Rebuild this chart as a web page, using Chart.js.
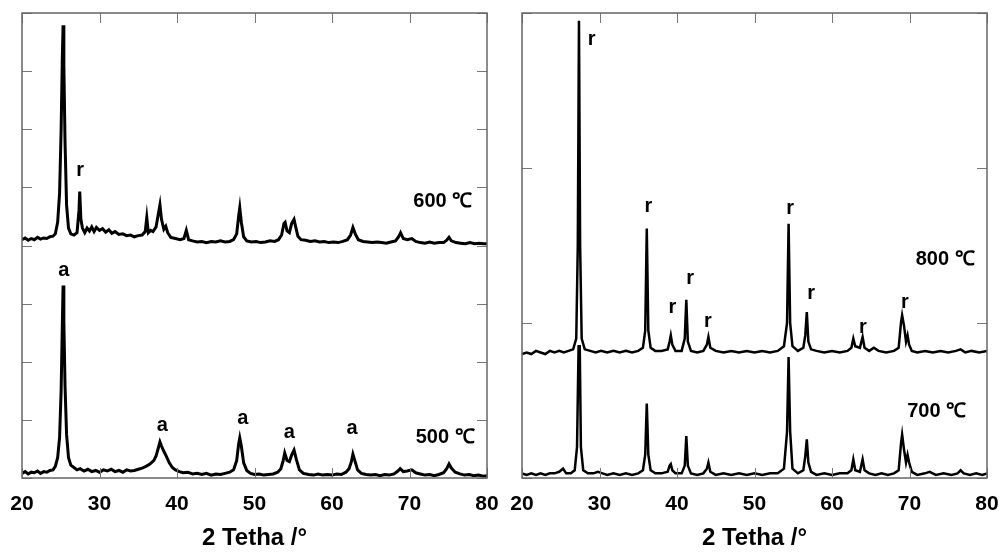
<!DOCTYPE html>
<html>
<head>
<meta charset="utf-8">
<script src="https://cdn.jsdelivr.net/npm/chart.js@4.4.1/dist/chart.umd.min.js"></script>
<style>
  body { margin: 0; background: #fff; overflow: hidden; }
  canvas { position: absolute; top: 0; }
</style>
</head>
<body>
<canvas id="leftPanel" width="517" height="553" style="left:-4px"></canvas>
<canvas id="rightPanel" width="517" height="553" style="left:496px"></canvas>
<script>
// 2θ ticks shared by both panels
const twoThetaTicks = [20, 30, 40, 50, 60, 70, 80];

// XRD traces as [2θ, intensity] (arb. units, upper trace offset)
const xrd500 = [[20,0.08],[20.4,0.11],[20.8,0.07],[21.2,0.1],[21.6,0.09],[22,0.12],[22.4,0.08],[22.8,0.11],[23.2,0.1],[23.6,0.13],[24,0.14],[24.3,0.2],[24.6,0.35],[24.85,0.7],[25.05,1.5],[25.2,2.6],[25.3,3.31],[25.4,2.7],[25.55,1.6],[25.75,0.75],[26,0.35],[26.3,0.22],[26.7,0.18],[27.1,0.14],[27.5,0.16],[28,0.12],[28.5,0.15],[29,0.11],[29.5,0.13],[30,0.1],[30.5,0.14],[31,0.12],[31.5,0.15],[32,0.11],[32.5,0.13],[33,0.1],[33.5,0.14],[34,0.12],[34.5,0.13],[35,0.15],[35.5,0.17],[36,0.2],[36.5,0.24],[37,0.3],[37.3,0.38],[37.6,0.52],[37.8,0.62],[38,0.55],[38.3,0.46],[38.6,0.38],[39,0.26],[39.4,0.18],[39.8,0.14],[40.3,0.11],[40.8,0.09],[41.4,0.1],[42,0.07],[42.6,0.08],[43.2,0.06],[43.8,0.08],[44.4,0.05],[45,0.07],[45.6,0.06],[46.2,0.08],[46.8,0.1],[47.3,0.14],[47.7,0.3],[47.95,0.58],[48.1,0.69],[48.3,0.55],[48.6,0.26],[49,0.13],[49.5,0.08],[50,0.06],[50.6,0.07],[51.2,0.05],[51.8,0.06],[52.4,0.07],[53,0.1],[53.4,0.16],[53.7,0.3],[53.9,0.43],[54.2,0.3],[54.5,0.28],[54.8,0.4],[55.1,0.48],[55.4,0.32],[55.8,0.14],[56.3,0.08],[57,0.06],[57.6,0.05],[58.2,0.07],[58.8,0.05],[59.4,0.06],[60,0.05],[60.6,0.07],[61.2,0.06],[61.8,0.1],[62.2,0.16],[62.5,0.28],[62.7,0.41],[62.95,0.3],[63.3,0.14],[63.8,0.08],[64.4,0.06],[65,0.05],[65.6,0.06],[66.2,0.04],[66.8,0.06],[67.4,0.05],[68,0.07],[68.5,0.12],[68.8,0.16],[69.2,0.11],[69.7,0.12],[70.3,0.14],[70.8,0.09],[71.4,0.07],[72,0.05],[72.6,0.06],[73.2,0.04],[73.8,0.06],[74.4,0.09],[74.8,0.16],[75.1,0.24],[75.4,0.17],[75.9,0.1],[76.5,0.07],[77.1,0.05],[77.7,0.06],[78.3,0.04],[78.9,0.05],[79.5,0.03],[80,0.04]];

const xrd600 = [[20,4.1],[20.4,4.13],[20.8,4.09],[21.2,4.12],[21.6,4.1],[22,4.14],[22.4,4.11],[22.8,4.13],[23.2,4.12],[23.6,4.15],[24,4.16],[24.3,4.2],[24.6,4.4],[24.85,4.9],[25.05,6.0],[25.2,7.2],[25.3,7.79],[25.4,7.1],[25.55,5.8],[25.75,4.7],[26,4.3],[26.3,4.2],[26.7,4.18],[27.1,4.22],[27.35,4.6],[27.45,4.93],[27.6,4.45],[27.8,4.3],[28.1,4.22],[28.4,4.3],[28.7,4.25],[29,4.32],[29.3,4.24],[29.6,4.31],[30,4.26],[30.4,4.29],[30.8,4.23],[31.2,4.27],[31.6,4.21],[32,4.24],[32.5,4.19],[33,4.2],[33.5,4.17],[34,4.18],[34.5,4.15],[35,4.17],[35.5,4.18],[35.9,4.24],[36.1,4.48],[36.3,4.22],[36.6,4.26],[36.9,4.24],[37.3,4.32],[37.6,4.55],[37.8,4.7],[38,4.45],[38.3,4.28],[38.55,4.33],[38.8,4.22],[39.2,4.14],[39.8,4.12],[40.4,4.1],[40.9,4.12],[41.2,4.26],[41.5,4.1],[42,4.08],[42.6,4.06],[43.2,4.07],[43.8,4.05],[44.4,4.07],[45,4.06],[45.6,4.08],[46.2,4.06],[46.8,4.07],[47.3,4.1],[47.7,4.2],[47.95,4.5],[48.1,4.65],[48.3,4.4],[48.6,4.15],[49,4.08],[49.6,4.06],[50.2,4.07],[50.8,4.05],[51.4,4.06],[52,4.08],[52.6,4.07],[53.1,4.1],[53.5,4.18],[53.8,4.38],[53.95,4.4],[54.2,4.25],[54.5,4.22],[54.8,4.38],[55.1,4.45],[55.35,4.3],[55.6,4.16],[56,4.1],[56.6,4.09],[57.2,4.07],[57.8,4.08],[58.4,4.06],[59,4.07],[59.6,4.05],[60.2,4.06],[60.8,4.05],[61.4,4.07],[62,4.1],[62.4,4.18],[62.7,4.31],[63,4.2],[63.4,4.1],[64,4.07],[64.6,4.06],[65.2,4.05],[65.8,4.06],[66.4,4.05],[67,4.04],[67.6,4.06],[68.2,4.08],[68.6,4.15],[68.85,4.22],[69.2,4.12],[69.7,4.1],[70.3,4.12],[70.8,4.07],[71.4,4.05],[72,4.04],[72.6,4.06],[73.2,4.04],[73.8,4.05],[74.4,4.05],[74.8,4.09],[75.1,4.14],[75.4,4.08],[76,4.05],[76.6,4.04],[77.2,4.03],[77.8,4.05],[78.4,4.03],[79,4.04],[79.6,4.03],[80,4.03]];

const xrd700 = [[20,0.03],[20.6,0.02],[21.2,0.03],[21.8,0.02],[22.4,0.03],[23,0.02],[23.6,0.03],[24.2,0.03],[24.8,0.04],[25.3,0.06],[25.7,0.03],[26.3,0.03],[26.8,0.05],[27.1,0.2],[27.3,0.85],[27.45,0.85],[27.6,0.2],[27.9,0.05],[28.5,0.03],[29.2,0.03],[29.8,0.04],[30.4,0.03],[31,0.02],[31.8,0.03],[32.6,0.02],[33.4,0.03],[34.2,0.02],[35,0.03],[35.6,0.05],[35.9,0.15],[36.1,0.48],[36.3,0.15],[36.6,0.05],[37.2,0.03],[38,0.03],[38.8,0.04],[39.05,0.08],[39.2,0.09],[39.4,0.05],[39.8,0.03],[40.6,0.03],[41,0.08],[41.2,0.27],[41.4,0.08],[41.8,0.03],[42.6,0.02],[43.4,0.03],[43.85,0.06],[44.05,0.1],[44.3,0.04],[45,0.02],[46,0.03],[47,0.02],[48,0.03],[49,0.02],[50,0.03],[51,0.02],[52,0.03],[53,0.03],[53.8,0.06],[54.2,0.3],[54.4,0.78],[54.6,0.3],[54.9,0.06],[55.6,0.03],[56.3,0.05],[56.55,0.14],[56.75,0.25],[56.95,0.1],[57.3,0.04],[58,0.02],[59,0.03],[60,0.02],[61,0.03],[62,0.03],[62.5,0.05],[62.75,0.12],[63,0.05],[63.6,0.04],[63.95,0.12],[64.2,0.05],[64.8,0.03],[65.6,0.02],[66.4,0.03],[67.2,0.02],[68,0.03],[68.6,0.05],[68.9,0.22],[69.05,0.28],[69.3,0.18],[69.55,0.1],[69.75,0.15],[69.95,0.1],[70.3,0.04],[71,0.02],[72,0.03],[72.6,0.04],[73.4,0.02],[74.4,0.03],[75.4,0.02],[76.2,0.03],[76.6,0.05],[77,0.03],[77.8,0.02],[78.6,0.03],[79.4,0.02],[80,0.03]];

const xrd800 = [[20,0.8],[20.6,0.81],[21.2,0.8],[21.8,0.82],[22.4,0.81],[23,0.8],[23.6,0.82],[24.2,0.81],[24.8,0.82],[25.4,0.81],[26,0.82],[26.6,0.83],[27,0.9],[27.2,1.5],[27.35,2.95],[27.5,1.5],[27.7,0.9],[28.1,0.83],[28.8,0.82],[29.5,0.81],[30.2,0.82],[31,0.81],[31.8,0.82],[32.6,0.81],[33.4,0.82],[34.2,0.81],[35,0.82],[35.6,0.84],[35.9,0.95],[36.1,1.61],[36.3,0.95],[36.6,0.84],[37.2,0.82],[38,0.82],[38.8,0.83],[39.05,0.88],[39.2,0.92],[39.4,0.86],[39.8,0.82],[40.6,0.82],[41,0.9],[41.2,1.15],[41.4,0.88],[41.8,0.82],[42.6,0.81],[43.4,0.82],[43.85,0.86],[44.05,0.91],[44.3,0.84],[45,0.82],[46,0.81],[47,0.82],[48,0.81],[49,0.82],[50,0.81],[51,0.82],[52,0.81],[53,0.82],[53.8,0.85],[54.2,1.0],[54.4,1.64],[54.6,1.0],[54.9,0.85],[55.6,0.82],[56.3,0.84],[56.55,0.92],[56.75,1.07],[56.95,0.88],[57.3,0.83],[58,0.82],[59,0.81],[60,0.82],[61,0.81],[62,0.82],[62.5,0.84],[62.75,0.9],[63,0.85],[63.6,0.84],[63.95,0.91],[64.2,0.84],[64.8,0.82],[65.4,0.84],[66,0.82],[67,0.81],[68,0.82],[68.6,0.84],[68.9,1.0],[69.05,1.05],[69.3,0.98],[69.55,0.88],[69.75,0.92],[69.95,0.86],[70.3,0.82],[71,0.81],[72,0.82],[73,0.81],[74,0.82],[75,0.81],[76,0.82],[76.6,0.83],[77.2,0.81],[78,0.82],[79,0.81],[80,0.82]];

// phase marks (a = anatase, r = rutile) and temperature labels, in data units
const leftNotes = [
  [25.4, 3.57, 'a'], [38.1, 0.91, 'a'], [48.5, 1.02, 'a'], [54.5, 0.78, 'a'], [62.6, 0.86, 'a'],
  [27.5, 5.29, 'r'], [74.3, 4.76, '600 ℃'], [74.6, 0.69, '500 ℃']
];
const rightNotes = [
  [29.0, 2.83, 'r'], [36.3, 1.75, 'r'], [39.4, 1.10, 'r'], [41.7, 1.29, 'r'], [44.0, 1.01, 'r'],
  [54.6, 1.74, 'r'], [57.3, 1.19, 'r'], [64.0, 0.97, 'r'], [69.4, 1.13, 'r'],
  [74.6, 1.41, '800 ℃'], [73.5, 0.43, '700 ℃']
];

const FONT = '"Liberation Sans", Arial, sans-serif';

// box frame, inward ticks on all four sides, and text notes
const framePlugin = {
  id: 'frame',
  afterDatasetsDraw(chart, args, opts) {
    const { ctx, chartArea: a } = chart;
    const x = chart.scales.x, y = chart.scales.y;
    ctx.save();
    ctx.strokeStyle = '#777';
    ctx.lineWidth = 1;
    ctx.beginPath();
    twoThetaTicks.forEach(v => {
      const px = Math.round(x.getPixelForValue(v)) + 0.5;
      ctx.moveTo(px, a.top); ctx.lineTo(px, a.top + 10);
      ctx.moveTo(px, a.bottom); ctx.lineTo(px, a.bottom - 10);
    });
    y.ticks.forEach(t => {
      const py = Math.round(y.getPixelForValue(t.value)) + 0.5;
      ctx.moveTo(a.left, py); ctx.lineTo(a.left + 10, py);
      ctx.moveTo(a.right, py); ctx.lineTo(a.right - 10, py);
    });
    ctx.stroke();
    ctx.strokeStyle = '#666';
    ctx.lineWidth = 1.5;
    ctx.strokeRect(a.left, a.top, a.right - a.left, a.bottom - a.top);

    ctx.fillStyle = '#000';
    ctx.font = 'bold 20px ' + FONT;
    ctx.textAlign = 'center';
    ctx.textBaseline = 'middle';
    opts.notes.forEach(([v, w, text]) => {
      ctx.fillText(text, x.getPixelForValue(v), y.getPixelForValue(w));
    });
    ctx.restore();
  }
};

function makePanel(id, traces, yMax, lineWidth, notes) {
  return new Chart(document.getElementById(id), {
    type: 'line',
    data: {
      datasets: traces.map(t => ({
        data: t.map(([px, py]) => ({ x: px, y: py })),
        borderColor: '#000',
        borderWidth: lineWidth,
        pointRadius: 0,
        tension: 0,
        fill: false
      }))
    },
    options: {
      responsive: false,
      animation: false,
      layout: { padding: { left: 26, right: 26, top: 13, bottom: 0 } },
      plugins: {
        legend: { display: false },
        tooltip: { enabled: false },
        frame: { notes: notes }
      },
      scales: {
        x: {
          type: 'linear',
          min: 20,
          max: 80,
          afterBuildTicks: s => { s.ticks = twoThetaTicks.map(v => ({ value: v })); },
          ticks: {
            color: '#000',
            padding: 14,
            maxRotation: 0,
            font: { family: FONT, size: 21, weight: 'bold' }
          },
          grid: { display: false, drawTicks: false },
          border: { display: false },
          title: {
            display: true,
            text: '2 Tetha /°',
            color: '#000',
            font: { family: FONT, size: 24, weight: 'bold' },
            padding: { top: -7, bottom: 0 }
          }
        },
        y: {
          display: false,
          min: 0,
          max: yMax,
          ticks: { stepSize: 1 }
        }
      }
    },
    plugins: [framePlugin]
  });
}

makePanel('leftPanel', [xrd500, xrd600], 8, 3, leftNotes);
makePanel('rightPanel', [xrd700, xrd800], 3, 2.5, rightNotes);
</script>
</body>
</html>
